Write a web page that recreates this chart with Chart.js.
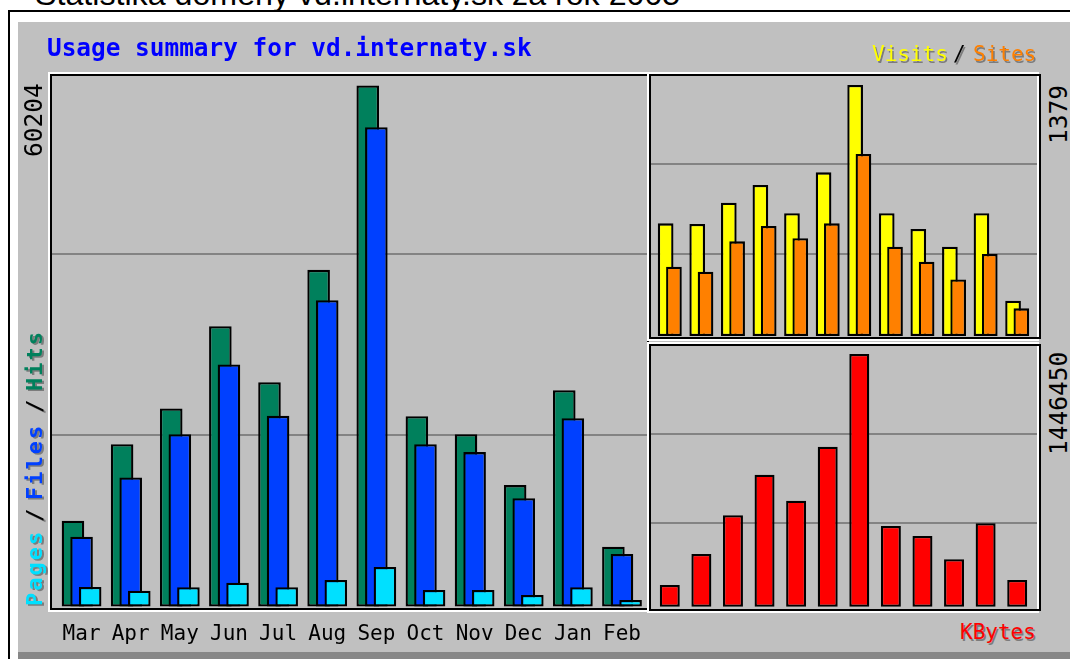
<!DOCTYPE html>
<html><head><meta charset="utf-8">
<script src="https://cdn.jsdelivr.net/npm/chart.js@4/dist/chart.umd.min.js"></script>
<style>
html,body{margin:0;padding:0;background:#fff;}
body{width:1070px;height:659px;overflow:hidden;position:relative;}
#heading{position:absolute;left:35px;top:-21.6px;font-family:"Liberation Sans",Arial,sans-serif;font-size:32.2px;line-height:1;white-space:nowrap;color:#000;}
#border{position:absolute;left:8px;top:10px;width:1100px;height:700px;border-left:2px solid #000;border-top:2px solid #000;}
#panel{position:absolute;left:18px;top:22px;width:1100px;height:630px;background:#c0c0c0;border-bottom:7px solid #878787;}
canvas{position:absolute;z-index:1;}
.frame{position:absolute;box-sizing:border-box;border:2px solid #000;z-index:2;box-shadow:-2px -2px 0 0 #fff,-2px 2px 0 0 #fff;}
.frame.r{box-shadow:-2px -2px 0 0 #fff,-2px 2px 0 0 #fff,inset -2px 0 0 0 #fff;}
.t{position:absolute;z-index:3;font-family:"DejaVu Sans Mono",monospace;line-height:1;white-space:nowrap;}
.up{transform-origin:0 0;transform:rotate(-90deg);}
.sh{text-shadow:1.5px 1.5px 0 #7c7c7c;}
.shu{text-shadow:-1.5px 1.5px 0 #7c7c7c;}
</style>
</head>
<body>
<div id="heading">Statistika domény vd.internaty.sk za rok 2005</div>
<div id="border"></div>
<div id="panel"></div>

<canvas id="cA" width="598" height="578" style="left:50px;top:74px;width:598px;height:578px"></canvas>
<canvas id="cB" width="388" height="270" style="left:651px;top:74px;width:388px;height:270px"></canvas>
<canvas id="cC" width="388" height="267" style="left:651px;top:345px;width:388px;height:267px"></canvas>

<div class="frame" style="left:50px;top:74px;width:599px;height:536px"></div>
<div class="frame r" style="left:649px;top:74px;width:392px;height:265px"></div>
<div class="frame r" style="left:649px;top:344px;width:392px;height:267px"></div>

<div class="t" style="left:47px;top:35.9px;font-size:24.4px;font-weight:bold;color:#0000ff">Usage summary for vd.internaty.sk</div>

<div class="t sh" style="left:872px;top:43.7px;font-size:21px;color:#ffff00">Visits</div>
<div class="t sh" style="left:953px;top:43.7px;font-size:21px;color:#000">/</div>
<div class="t sh" style="left:973px;top:43.7px;font-size:21px;color:#ff8000">Sites</div>
<div class="t sh" style="left:960px;top:622.2px;font-size:21px;color:#ff0000">KBytes</div>

<div id="lblA" class="t up" style="left:22.3px;top:156.5px;font-size:24.5px;color:#000"></div>
<div id="lblB" class="t up" style="left:1047.3px;top:143.5px;font-size:24.5px;color:#000"></div>
<div id="lblC" class="t up" style="left:1047.3px;top:454.5px;font-size:24.5px;color:#000"></div>

<div class="t up shu" style="left:24.4px;top:606px;font-size:22px;font-weight:bold;letter-spacing:2px;color:#00e0ff">Pages</div>
<div class="t up shu" style="left:24.4px;top:522px;font-size:22px;font-weight:bold;color:#000">/</div>
<div class="t up shu" style="left:24.4px;top:499.5px;font-size:22px;font-weight:bold;letter-spacing:2px;color:#0040ff">Files</div>
<div class="t up shu" style="left:24.4px;top:413px;font-size:22px;font-weight:bold;color:#000">/</div>
<div class="t up shu" style="left:24.4px;top:391px;font-size:22px;font-weight:bold;letter-spacing:2px;color:#00805c">Hits</div>

<script>
// ---- data ----
const months = ['Mar','Apr','May','Jun','Jul','Aug','Sep','Oct','Nov','Dec','Jan','Feb'];
const hits   = [9905, 18760, 22880, 32380, 25920, 38900, 60204, 21990, 19910, 14030, 24990, 6900];
const files  = [8060, 14910, 19910, 27960, 22030, 35380, 55390, 18760, 17840, 12520, 21760, 6060];
const pages  = [2250, 1820, 2220, 2750, 2220, 3060, 4560, 1900, 1900, 1330, 2220, 750];
const visits = [619, 615, 732, 830, 674, 899, 1379, 674, 588, 491, 674, 194];
const sites  = [381, 353, 520, 604, 537, 619, 1000, 491, 408, 311, 451, 152];
const kbytes = [124200, 301650, 523200, 755600, 606750, 915850, 1446450, 461900, 404700, 271300, 477400, 152800];

// ---- axis maximum labels (derived from the data) ----
document.getElementById('lblA').textContent = String(Math.max(...hits));
document.getElementById('lblB').textContent = String(Math.max(...visits));
document.getElementById('lblC').textContent = String(Math.max(...kbytes));

// y range so that the peak bar reaches peakY and zero sits at zeroY inside [areaTop, areaBottom]
function yRange(peak, areaTop, areaBottom, zeroY, peakY) {
  const upp = peak / (zeroY - peakY);
  return { min: -(areaBottom - zeroY) * upp, max: (zeroY - areaTop) * upp };
}

const fullGrid = {
  id: 'fullGrid',
  beforeDatasetsDraw(chart, args, opts) {
    const ctx = chart.ctx, y = chart.scales.y;
    ctx.save();
    ctx.strokeStyle = opts.color; ctx.lineWidth = opts.width;
    for (const t of y.ticks) {
      const py = Math.round(y.getPixelForValue(t.value));
      ctx.beginPath(); ctx.moveTo(0, py); ctx.lineTo(chart.width, py); ctx.stroke();
    }
    ctx.restore();
  }
};
const drawOrder = {
  id: 'drawOrder',
  beforeDatasetDraw() { return false; },
  afterDatasetsDraw(chart) {
    chart.data.datasets.forEach((ds, i) => {
      const meta = chart.getDatasetMeta(i);
      if (meta.visible !== false) meta.controller.draw();
    });
  }
};

function yAxis(r) {
  return {
    min: r.min, max: r.max, bounds: 'data',
    ticks: { display: false }, grid: { display: false, drawTicks: false }, border: { display: false },
    afterBuildTicks: s => { s.ticks = [1, 2].map(k => ({ value: s.min + (s.max - s.min) * k / 3 })); },
    afterFit: s => { s.width = 0; }
  };
}
function baseOptions(pad, x, y, cp, bp) {
  return {
    responsive: false, animation: false, devicePixelRatio: 1,
    layout: { padding: pad },
    plugins: { legend: { display: false }, tooltip: { enabled: false }, fullGrid: { color: '#838383', width: 2 } },
    scales: { x: x, y: y },
    datasets: { bar: { borderColor: '#000', borderWidth: 2.3, inflateAmount: 0, borderSkipped: false, categoryPercentage: cp, barPercentage: bp } }
  };
}
function ds(label, data, color) { return { label, data, backgroundColor: color }; }

// Hits / Files / Pages
new Chart(document.getElementById('cA'), {
  type: 'bar',
  data: { labels: months, datasets: [ds('Hits', hits, '#00805c'), ds('Files', files, '#0040ff'), ds('Pages', pages, '#00e0ff')] },
  options: baseOptions({ left: 7, right: 1, top: 0, bottom: 0 },
    { grid: { display: false, drawTicks: false }, border: { display: false },
      ticks: { color: '#000', font: { family: 'DejaVu Sans Mono', size: 21 }, padding: 7, maxRotation: 0, autoSkip: false },
      afterFit: s => { s.height = 37; } },
    yAxis(yRange(Math.max(...hits), 74, 615, 606.5, 85.5)), 0.5247, 2.628),
  plugins: [fullGrid, drawOrder]
});

// Visits / Sites
new Chart(document.getElementById('cB'), {
  type: 'bar',
  data: { labels: months, datasets: [ds('Visits', visits, '#ffff00'), ds('Sites', sites, '#ff8000')] },
  options: baseOptions({ left: 3, right: 6, top: 0, bottom: 0 }, { display: false },
    yAxis(yRange(Math.max(...visits), 74, 344, 336, 85)), 0.5257, 1.89),
  plugins: [fullGrid, drawOrder]
});

// KBytes
new Chart(document.getElementById('cC'), {
  type: 'bar',
  data: { labels: months, datasets: [ds('KBytes', kbytes, '#ff0000')] },
  options: baseOptions({ left: 3, right: 6, top: 0, bottom: 0 }, { display: false },
    yAxis(yRange(Math.max(...kbytes), 345, 612, 606.7, 354)), 1, 0.633),
  plugins: [fullGrid, drawOrder]
});
</script>
</body></html>
